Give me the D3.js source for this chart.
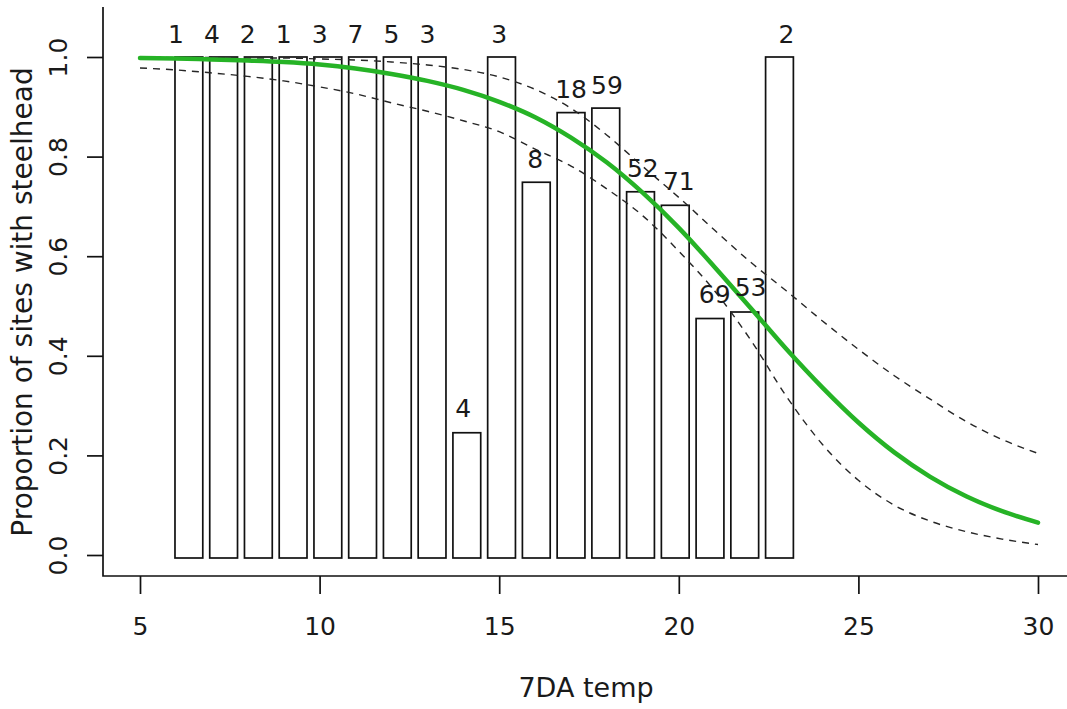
<!DOCTYPE html>
<html>
<head>
<meta charset="utf-8">
<script src="https://cdn.jsdelivr.net/npm/d3@7"></script>
<style>
  html, body { margin: 0; padding: 0; background: #fff; }
  svg { display: block; }
  text { font-family: "DejaVu Sans", Verdana, sans-serif; fill: #1a1a1a; }
</style>
</head>
<body>
<svg id="chart" width="1067" height="709"></svg>
<script>
// Temperature bins (7-day average) and observed proportion of sites with steelhead
const binTemps = [6, 7, 8, 9, 10, 11, 12, 13, 14, 15, 16, 17, 18, 19, 20, 21, 22, 23];
const binProportion = [1, 1, 1, 1, 1, 1, 1, 1, 0.25, 1, 0.75, 0.889, 0.898, 0.731, 0.704, 0.478, 0.491, 1];
const binSites = [1, 4, 2, 1, 3, 7, 5, 3, 4, 3, 8, 18, 59, 52, 71, 69, 53, 2];

// Fitted logistic curve with lower / upper confidence bounds
const curveTemps = [5, 6, 7, 8, 9, 10, 11, 12, 13, 14, 15, 16, 17, 18, 19, 20, 21, 22, 23, 24, 25, 26, 27, 28, 29, 30];
const fitted = [0.998, 0.997, 0.995, 0.993, 0.990, 0.985, 0.977, 0.966, 0.952, 0.934, 0.910, 0.879, 0.838, 0.788, 0.727, 0.657, 0.578, 0.496, 0.413, 0.336, 0.266, 0.206, 0.157, 0.118, 0.088, 0.065];
const upperCI = [1.000, 0.999, 0.999, 0.998, 0.998, 0.996, 0.994, 0.990, 0.984, 0.975, 0.960, 0.935, 0.897, 0.843, 0.780, 0.718, 0.652, 0.588, 0.530, 0.470, 0.413, 0.360, 0.313, 0.268, 0.232, 0.204];
const lowerCI = [0.978, 0.974, 0.968, 0.961, 0.952, 0.940, 0.926, 0.908, 0.891, 0.872, 0.850, 0.815, 0.781, 0.735, 0.681, 0.610, 0.530, 0.432, 0.318, 0.222, 0.150, 0.100, 0.068, 0.047, 0.032, 0.021];

// Axis ticks
const xTicks = [5, 10, 15, 20, 25, 30];
const yTicks = [0, 0.2, 0.4, 0.6, 0.8, 1.0];

const svg = d3.select("#chart");
const FONT = 25;

// Scales
const x = d3.scaleLinear().domain([5, 30]).range([140, 1038]);
const y = d3.scaleLinear().domain([0, 1]).range([555, 57]);
// Bars sit in their own barplot coordinates, spanning this temperature window
const barSpan = [5.974, 23.19];
const xBar = d3.scaleBand().domain(binTemps).range([x(barSpan[0]), x(barSpan[1])]).paddingInner(0.2).paddingOuter(0);
const yBar = d3.scaleLinear().domain([0, 1]).range([558, 57]);

const axisBottomY = 576;
const axisLeftX = 103;

// Bars
svg.append("g").selectAll("rect")
  .data(binTemps.map((t, i) => ({ t, p: binProportion[i] })))
  .join("rect")
  .attr("x", d => xBar(d.t))
  .attr("width", xBar.bandwidth())
  .attr("y", d => yBar(d.p))
  .attr("height", d => yBar(0) - yBar(d.p))
  .attr("fill", "#fff")
  .attr("stroke", "#111")
  .attr("stroke-width", 1.7);

// Confidence bounds and fitted curve
const line = d3.line()
  .x((d, i) => x(curveTemps[i]))
  .y(d => y(d))
  .curve(d3.curveMonotoneX);

[upperCI, lowerCI].forEach(series => {
  svg.append("path")
    .attr("d", line(series))
    .attr("fill", "none")
    .attr("stroke", "#262626")
    .attr("stroke-width", 1.4)
    .attr("stroke-dasharray", "7,6");
});

svg.append("path")
  .attr("d", line(fitted))
  .attr("fill", "none")
  .attr("stroke", "#26b326")
  .attr("stroke-width", 4.5)
  .attr("stroke-linecap", "round");

// Sample size labels above each bin
svg.append("g").selectAll("text")
  .data(binTemps.map((t, i) => ({ t, p: binProportion[i], n: binSites[i] })))
  .join("text")
  .attr("x", d => x(d.t))
  .attr("y", d => y(d.p) - 14)
  .attr("text-anchor", "middle")
  .attr("font-size", FONT)
  .text(d => d.n);

// X axis
const gx = svg.append("g")
  .attr("transform", `translate(0,${axisBottomY})`)
  .call(d3.axisBottom(x).tickValues(xTicks).tickSize(18).tickPadding(0).tickFormat(d3.format("d")));
gx.select(".domain").remove();
gx.selectAll(".tick line").attr("stroke", "#111").attr("stroke-width", 1.7);
gx.selectAll(".tick text")
  .attr("font-size", FONT)
  .attr("y", 59)
  .attr("dy", 0)
  .attr("fill", "#1a1a1a");

// Y axis with labels parallel to the axis
const gy = svg.append("g")
  .attr("transform", `translate(${axisLeftX},0)`)
  .call(d3.axisLeft(y).tickValues(yTicks).tickSize(16).tickFormat(d3.format(".1f")));
gy.select(".domain").remove();
gy.selectAll(".tick line").attr("stroke", "#111").attr("stroke-width", 1.7);
gy.selectAll(".tick text")
  .attr("font-size", FONT)
  .attr("x", 0)
  .attr("dy", 0)
  .attr("text-anchor", "middle")
  .attr("transform", "translate(-36,0) rotate(-90)")
  .attr("fill", "#1a1a1a");

// L-shaped frame
svg.append("path")
  .attr("d", d3.line()([[axisLeftX, 7], [axisLeftX, axisBottomY], [1067, axisBottomY]]))
  .attr("fill", "none")
  .attr("stroke", "#111")
  .attr("stroke-width", 1.7);

// Axis titles
svg.append("text")
  .attr("x", 586)
  .attr("y", 697)
  .attr("text-anchor", "middle")
  .attr("font-size", 27)
  .text("7DA temp");

svg.append("text")
  .attr("transform", "translate(32,302) rotate(-90)")
  .attr("text-anchor", "middle")
  .attr("font-size", 28)
  .text("Proportion of sites with steelhead");
</script>
</body>
</html>
